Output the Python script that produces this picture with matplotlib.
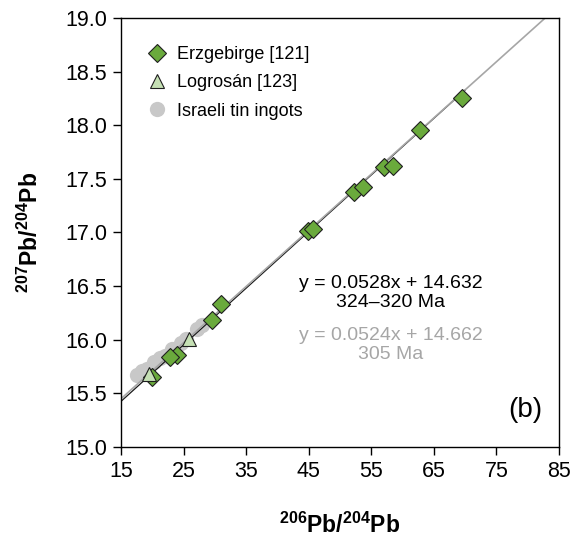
import matplotlib
matplotlib.use("Agg")
import matplotlib.pyplot as plt
import numpy as np

plt.rcParams['font.family'] = ['Liberation Sans', 'DejaVu Sans']
plt.rcParams['mathtext.fontset'] = 'custom'
plt.rcParams['mathtext.rm'] = 'Liberation Sans'
plt.rcParams['mathtext.bf'] = 'Liberation Sans:bold'

# Erzgebirge ore samples
erz_206 = [69.5, 62.8, 57.1, 58.4, 52.3, 53.6, 44.9, 45.7, 31.0, 29.5, 23.9, 22.8, 20.0]
erz_207 = [18.25, 17.96, 17.61, 17.62, 17.38, 17.42, 17.01, 17.03, 16.33, 16.18, 15.86, 15.84, 15.65]

# Logrosán ore samples
log_206 = [19.5, 25.9]
log_207 = [15.68, 16.01]

# Israeli tin ingots
isr_206 = [17.6, 18.4, 19.2, 20.3, 21.2, 22.0, 23.1, 24.6, 25.4, 27.2, 28.0]
isr_207 = [15.67, 15.71, 15.73, 15.79, 15.83, 15.85, 15.91, 15.97, 16.01, 16.10, 16.14]

# Regression lines (slope, intercept)
fit_erz = (0.0528, 14.632)
fit_isr = (0.0524, 14.662)

x_ticks = [15, 25, 35, 45, 55, 65, 75, 85]
y_ticks = [15.0, 15.5, 16.0, 16.5, 17.0, 17.5, 18.0, 18.5, 19.0]

fig = plt.figure(figsize=(5.76, 5.41), dpi=100)
ax = fig.add_axes([0.210, 0.174, 0.7605, 0.7927])

ax.plot(isr_206, isr_207, 'o', ms=11, color='#c8c8c8', mec='none',
        zorder=1, label='Israeli tin ingots')

xl = np.array([15, 70])
ax.plot(xl, fit_erz[0] * xl + fit_erz[1], color='#1a1a1a', lw=0.9, zorder=2)
xg = np.array([15, 85])
ax.plot(xg, fit_isr[0] * xg + fit_isr[1], color='#a6a6a6', lw=1.2, zorder=2)

ax.plot(erz_206, erz_207, 'D', ms=8.8, color='#6aaa3c', mec='#1f1f1f', mew=0.8,
        zorder=3, label='Erzgebirge [121]')
ax.plot(log_206, log_207, '^', ms=10, color='#c5e0b4', mec='#1f1f1f', mew=0.8,
        zorder=4, label='Logrosán [123]')

ax.set_xlim(15, 85)
ax.set_ylim(15.0, 19.0)
ax.set_xticks(x_ticks)
ax.set_yticks(y_ticks)
ax.set_yticklabels([f'{v:.1f}' for v in y_ticks])
ax.tick_params(axis='both', direction='out', length=6, width=1, labelsize=15.5,
               top=False, right=False, pad=4)
for s in ax.spines.values():
    s.set_linewidth(1.0)

ax.set_xlabel(r'$\mathbf{^{206}Pb/^{204}Pb}$', fontsize=16.5, labelpad=22)
ax.set_ylabel(r'$\mathbf{^{207}Pb/^{204}Pb}$', fontsize=16.5, labelpad=16)

h, l = ax.get_legend_handles_labels()
order = [1, 2, 0]
ax.legend([h[i] for i in order], [l[i] for i in order], loc='upper left',
          frameon=False, fontsize=13, handletextpad=0.3, labelspacing=0.62,
          bbox_to_anchor=(0.0, 0.985), borderaxespad=0.8, handlelength=1.6)

ax.text(0.616, 0.358, f'y = {fit_erz[0]:.4f}x + {fit_erz[1]:.3f}\n324–320 Ma',
        transform=ax.transAxes, ha='center', va='center', fontsize=14,
        color='black', linespacing=1.15)
ax.text(0.616, 0.237, f'y = {fit_isr[0]:.4f}x + {fit_isr[1]:.3f}\n305 Ma',
        transform=ax.transAxes, ha='center', va='center', fontsize=14,
        color='#a6a6a6', linespacing=1.15)
ax.text(0.922, 0.086, '(b)', transform=ax.transAxes, ha='center', va='center',
        fontsize=20)

fig.savefig('out.png', dpi=100)
